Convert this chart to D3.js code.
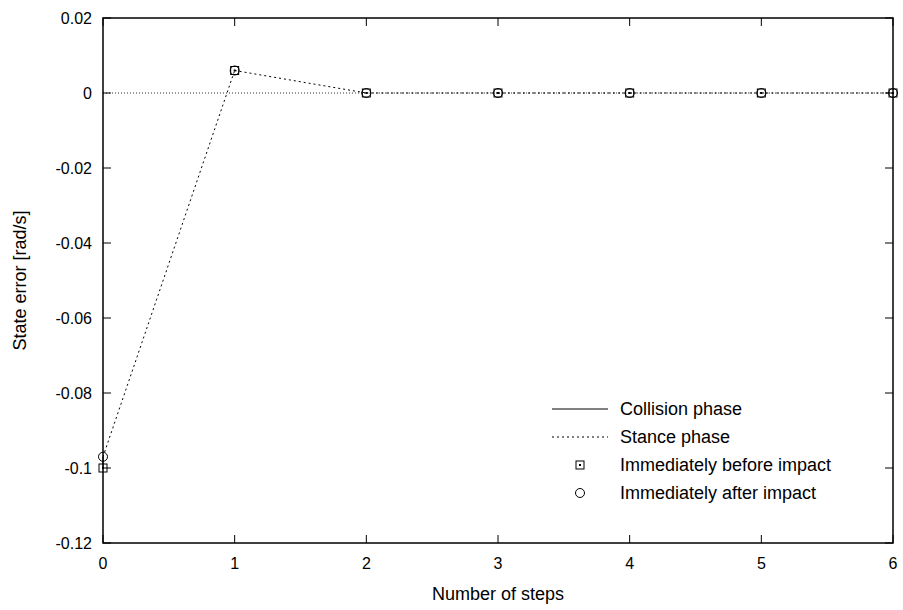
<!DOCTYPE html>
<html>
<head>
<meta charset="utf-8">
<script src="https://cdn.jsdelivr.net/npm/d3@7"></script>
<style>
  body { margin: 0; background: #fff; }
  text { font-family: 'Liberation Sans', Arial, sans-serif; fill: #000; }
</style>
</head>
<body>
<div id="chart"></div>
<script>
const steps = [0, 1, 2, 3, 4, 5, 6];
const beforeImpact = [-0.1, 0.006, 0, 0, 0, 0, 0];
const afterImpact = [-0.097, 0.006, 0, 0, 0, 0, 0];
const yTicks = [0.02, 0, -0.02, -0.04, -0.06, -0.08, -0.1, -0.12];
const xTicks = [0, 1, 2, 3, 4, 5, 6];
const legendLabels = ['Collision phase', 'Stance phase', 'Immediately before impact', 'Immediately after impact'];

const d3 = window.d3;
const totalW = 903, totalH = 610;
const margin = { top: 18, right: 10, bottom: 67, left: 103 };
const W = totalW - margin.left - margin.right;
const H = totalH - margin.top - margin.bottom;

const svg = d3.select('#chart').append('svg')
  .attr('width', totalW).attr('height', totalH);

const g = svg.append('g').attr('transform', `translate(${margin.left},${margin.top})`);

const x = d3.scaleLinear().domain([0, 6]).range([0, W]);
const y = d3.scaleLinear().domain([-0.12, 0.02]).range([H, 0]);

// zero axis
g.append('line')
  .attr('x1', 0).attr('x2', W)
  .attr('y1', y(0)).attr('y2', y(0))
  .attr('stroke', '#000').attr('stroke-width', 0.8)
  .attr('stroke-dasharray', '1,2');

// ticks (inward, both sides, gnuplot style)
const tk = 8;
const fmtY = d => d === 0 ? '0' : String(+d.toFixed(2));
yTicks.forEach(t => {
  g.append('line').attr('x1', 0).attr('x2', tk).attr('y1', y(t)).attr('y2', y(t)).attr('stroke', '#000');
  g.append('line').attr('x1', W - tk).attr('x2', W).attr('y1', y(t)).attr('y2', y(t)).attr('stroke', '#000');
  g.append('text')
    .attr('x', -11).attr('y', y(t)).attr('dy', '0.35em')
    .attr('text-anchor', 'end').attr('font-size', '16px')
    .text(fmtY(t));
});
xTicks.forEach(t => {
  g.append('line').attr('x1', x(t)).attr('x2', x(t)).attr('y1', H).attr('y2', H - tk).attr('stroke', '#000');
  g.append('line').attr('x1', x(t)).attr('x2', x(t)).attr('y1', 0).attr('y2', tk).attr('stroke', '#000');
  g.append('text')
    .attr('x', x(t)).attr('y', H + 26)
    .attr('text-anchor', 'middle').attr('font-size', '16px')
    .text(t);
});

// frame
g.append('rect')
  .attr('x', 0).attr('y', 0).attr('width', W).attr('height', H)
  .attr('fill', 'none').attr('stroke', '#000').attr('stroke-width', 1.5);

// axis titles
svg.append('text')
  .attr('x', margin.left + W / 2).attr('y', 600)
  .attr('text-anchor', 'middle').attr('font-size', '18px')
  .text('Number of steps');
svg.append('text')
  .attr('transform', `translate(26,${margin.top + H / 2}) rotate(-90)`)
  .attr('text-anchor', 'middle').attr('font-size', '18px')
  .text('State error [rad/s]');

// collision phase: before -> after at same step
const seg = d3.line().x(d => x(d[0])).y(d => y(d[1]));
steps.forEach((s, i) => {
  g.append('path')
    .datum([[s, beforeImpact[i]], [s, afterImpact[i]]])
    .attr('fill', 'none').attr('stroke', '#000').attr('stroke-width', 1)
    .attr('d', seg);
});

// stance phase: after impact at step i -> before impact at step i+1
steps.slice(0, -1).forEach((s, i) => {
  g.append('path')
    .datum([[s, afterImpact[i]], [steps[i + 1], beforeImpact[i + 1]]])
    .attr('fill', 'none').attr('stroke', '#000').attr('stroke-width', 1)
    .attr('stroke-dasharray', '2,3')
    .attr('d', seg);
});

// markers
function square(sel, cx, cy) {
  sel.append('rect')
    .attr('x', cx - 4).attr('y', cy - 4).attr('width', 8).attr('height', 8)
    .attr('fill', 'none').attr('stroke', '#000').attr('stroke-width', 1);
  sel.append('rect')
    .attr('x', cx - 1).attr('y', cy - 1).attr('width', 2).attr('height', 2)
    .attr('fill', '#000');
}
function circle(sel, cx, cy) {
  sel.append('circle')
    .attr('cx', cx).attr('cy', cy).attr('r', 4.5)
    .attr('fill', 'none').attr('stroke', '#000').attr('stroke-width', 1);
}
steps.forEach((s, i) => {
  square(g, x(s), y(beforeImpact[i]));
  circle(g, x(s), y(afterImpact[i]));
});

// legend
const lg = svg.append('g');
const lx1 = 552, lx2 = 608, tx = 620;
const rows = [409, 437, 465, 493];
lg.append('line').attr('x1', lx1).attr('x2', lx2).attr('y1', rows[0]).attr('y2', rows[0])
  .attr('stroke', '#000').attr('stroke-width', 1);
lg.append('line').attr('x1', lx1).attr('x2', lx2).attr('y1', rows[1]).attr('y2', rows[1])
  .attr('stroke', '#000').attr('stroke-width', 1).attr('stroke-dasharray', '2,3');
square(lg, (lx1 + lx2) / 2, rows[2]);
circle(lg, (lx1 + lx2) / 2, rows[3]);
legendLabels.forEach((l, i) => {
  lg.append('text')
    .attr('x', tx).attr('y', rows[i]).attr('dy', '0.35em')
    .attr('font-size', '18px')
    .text(l);
});
</script>
</body>
</html>
